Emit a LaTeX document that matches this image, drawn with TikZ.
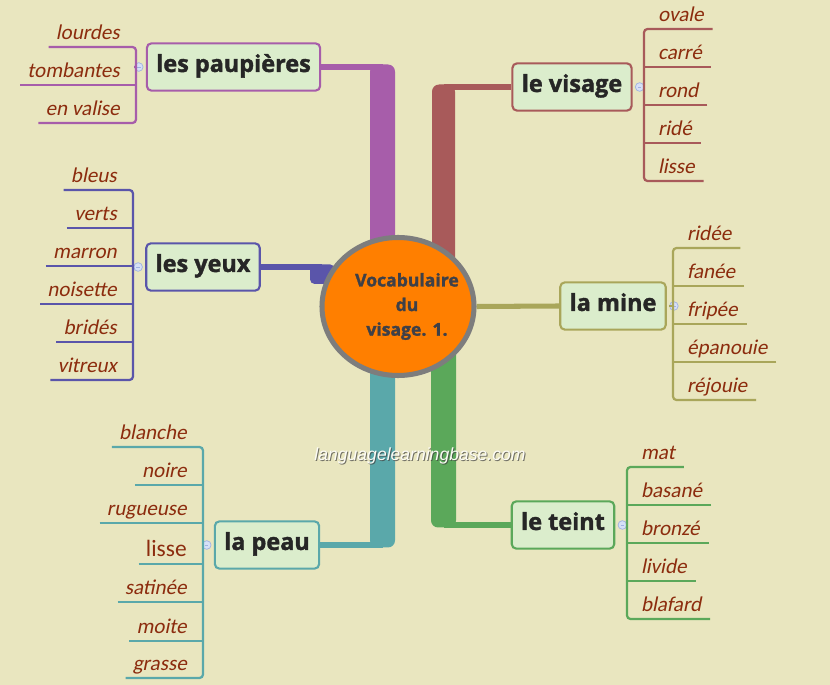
\documentclass[tikz,border=0pt]{standalone}
\usepackage{fontspec}
\setmainfont{Carlito}[AutoFakeSlant=0.2]
\newfontfamily\topicfont{Open Sans}[BoldFeatures={FakeBold=1.6}]
\newfontfamily\markfont{Liberation Sans}
\usetikzlibrary{shapes.geometric,positioning,backgrounds}

\definecolor{paper}{RGB}{233,230,191}
\definecolor{boxfill}{RGB}{219,237,204}
\definecolor{hubfill}{RGB}{255,127,0}
\definecolor{hubline}{RGB}{125,125,125}
\definecolor{hubtext}{RGB}{62,64,72}
\definecolor{leaftext}{RGB}{140,44,14}
\definecolor{cpau}{RGB}{167,93,170}
\definecolor{cvis}{RGB}{168,90,90}
\definecolor{cyeu}{RGB}{90,85,170}
\definecolor{cmin}{RGB}{169,166,90}
\definecolor{cpea}{RGB}{90,168,170}
\definecolor{ctei}{RGB}{91,168,90}
\definecolor{knobfill}{RGB}{214,224,246}
\definecolor{knobline}{RGB}{160,178,226}

\tikzset{
  topic/.style={draw=#1, line width=1.8pt, fill=boxfill, rounded corners=4pt,
    inner xsep=8pt, minimum height=1.42cm, text height=1.0em, text depth=0.15em,
    font=\topicfont\bfseries\fontsize{20}{22}\selectfont, text=black!85},
  leafL/.style={anchor=south east, inner xsep=6pt, inner ysep=4pt,
    text height=0.7em, text depth=0.2em, text=leaftext,
    font=\fontsize{18}{21}\selectfont\itshape},
  leafR/.style={leafL, anchor=south west, inner xsep=7.5pt},
  twig/.style={draw=#1, line width=1.9pt, rounded corners=3pt},
  trunk/.style={draw=#1, line width=4.3pt},
  knob/.style={circle, draw=knobline, fill=knobfill, line width=0.6pt,
    minimum size=0.26cm, inner sep=0pt,
    path picture={\draw[knobline, line width=0.6pt]
      ([xshift=-1.5pt]path picture bounding box.center) --
      ([xshift=1.5pt]path picture bounding box.center);}},
}

\begin{document}
\begin{tikzpicture}[x=0.03cm, y=-0.03cm]
    \useasboundingbox (0,0) rectangle (830,685);

    % Central topic
    \node[ellipse, draw=hubline, fill=hubfill, line width=4.3pt,
      minimum width=4.56cm, minimum height=4.14cm, inner sep=0pt,
      label={[xshift=0.27cm, align=center, text=hubtext,
        font=\topicfont\bfseries\fontsize{15}{21}\selectfont]center:Vocabulaire\\du\\visage. 1.}]
      (hub) at (398,306.5) {};

    % les paupieres
    \node[topic=cpau] (pau) at (233.5,67) {les paupières};
    \node[knob, left=2pt of pau] (kpau) {};
    \coordinate (spau) at (136,67);
    \coordinate (jpau) at (382.5,67);
    \node[leafL] (pau1) at (127,47) {lourdes};
    \node[leafL] (pau2) at (127,85) {tombantes};
    \node[leafL] (pau3) at (127,123) {en valise};
    \draw[twig=cpau] (pau1.south west) -- (pau1.south west -| spau) -- (pau3.south west -| spau) -- (pau3.south west);
    \draw[twig=cpau] (pau2.south west) -- (pau2.south west -| spau);
    \draw[twig=cpau] (kpau) -- (spau);

    % le visage
    \node[topic=cvis] (vis) at (572,87) {le visage};
    \node[knob, right=2pt of vis] (kvis) {};
    \coordinate (svis) at (644,87);
    \coordinate (jvis) at (443.5,87);
    \node[leafR] (vis1) at (649,29) {ovale};
    \node[leafR] (vis2) at (649,67) {carré};
    \node[leafR] (vis3) at (649,105) {rond};
    \node[leafR] (vis4) at (649,143) {ridé};
    \node[leafR] (vis5) at (649,181) {lisse};
    \draw[twig=cvis] (vis1.south east) -- (vis1.south east -| svis) -- (vis5.south east -| svis) -- (vis5.south east);
    \draw[twig=cvis] (vis2.south east) -- (vis2.south east -| svis);
    \draw[twig=cvis] (vis3.south east) -- (vis3.south east -| svis);
    \draw[twig=cvis] (vis4.south east) -- (vis4.south east -| svis);
    \draw[twig=cvis] (kvis) -- (svis);

    % les yeux
    \node[topic=cyeu] (yeu) at (203,267) {les yeux};
    \node[knob, left=2pt of yeu] (kyeu) {};
    \coordinate (syeu) at (133,267);
    \coordinate (jyeu) at (322,267);
    \node[leafL] (yeu1) at (124,190) {bleus};
    \node[leafL] (yeu2) at (124,228) {verts};
    \node[leafL] (yeu3) at (124,266) {marron};
    \node[leafL] (yeu4) at (124,304) {noisette};
    \node[leafL] (yeu5) at (124,342) {bridés};
    \node[leafL] (yeu6) at (124,380) {vitreux};
    \draw[twig=cyeu] (yeu1.south west) -- (yeu1.south west -| syeu) -- (yeu6.south west -| syeu) -- (yeu6.south west);
    \draw[twig=cyeu] (yeu2.south west) -- (yeu2.south west -| syeu);
    \draw[twig=cyeu] (yeu3.south west) -- (yeu3.south west -| syeu);
    \draw[twig=cyeu] (yeu4.south west) -- (yeu4.south west -| syeu);
    \draw[twig=cyeu] (yeu5.south west) -- (yeu5.south west -| syeu);
    \draw[twig=cyeu] (kyeu) -- (syeu);

    % la mine
    \node[topic=cmin] (min) at (613,306) {la mine};
    \node[knob, right=2pt of min] (kmin) {};
    \coordinate (smin) at (673,306);
    \node[leafR] (min1) at (678,248) {ridée};
    \node[leafR] (min2) at (678,286) {fanée};
    \node[leafR] (min3) at (678,324) {fripée};
    \node[leafR] (min4) at (678,362) {épanouie};
    \node[leafR] (min5) at (678,400) {réjouie};
    \draw[twig=cmin] (min1.south east) -- (min1.south east -| smin) -- (min5.south east -| smin) -- (min5.south east);
    \draw[twig=cmin] (min2.south east) -- (min2.south east -| smin);
    \draw[twig=cmin] (min3.south east) -- (min3.south east -| smin);
    \draw[twig=cmin] (min4.south east) -- (min4.south east -| smin);
    \draw[twig=cmin] (kmin) -- (smin);

    % la peau
    \node[topic=cpea] (pea) at (267,545) {la peau};
    \node[knob, left=2pt of pea] (kpea) {};
    \coordinate (spea) at (203,545);
    \coordinate (jpea) at (382.5,545);
    \node[leafL] (pea1) at (194,447) {blanche};
    \node[leafL] (pea2) at (194,485) {noire};
    \node[leafL] (pea3) at (194,523) {rugueuse};
    \node[leafL, font=\fontsize{20}{22}\selectfont] (pea4) at (194,564) {lisse};
    \node[leafL] (pea5) at (194,602) {satinée};
    \node[leafL] (pea6) at (194,641) {moite};
    \node[leafL] (pea7) at (194,678) {grasse};
    \draw[twig=cpea] (pea1.south west) -- (pea1.south west -| spea) -- (pea7.south west -| spea) -- (pea7.south west);
    \draw[twig=cpea] (pea2.south west) -- (pea2.south west -| spea);
    \draw[twig=cpea] (pea3.south west) -- (pea3.south west -| spea);
    \draw[twig=cpea] (pea4.south west) -- (pea4.south west -| spea);
    \draw[twig=cpea] (pea5.south west) -- (pea5.south west -| spea);
    \draw[twig=cpea] (pea6.south west) -- (pea6.south west -| spea);
    \draw[twig=cpea] (kpea) -- (spea);

    % le teint
    \node[topic=ctei] (tei) at (563,525) {le teint};
    \node[knob, right=2pt of tei] (ktei) {};
    \coordinate (stei) at (627,525);
    \coordinate (jtei) at (443.5,525);
    \node[leafR] (tei1) at (632,467) {mat};
    \node[leafR] (tei2) at (632,505) {basané};
    \node[leafR] (tei3) at (632,543) {bronzé};
    \node[leafR] (tei4) at (632,581) {livide};
    \node[leafR] (tei5) at (632,619) {blafard};
    \draw[twig=ctei] (tei1.south east) -- (tei1.south east -| stei) -- (tei5.south east -| stei) -- (tei5.south east);
    \draw[twig=ctei] (tei2.south east) -- (tei2.south east -| stei);
    \draw[twig=ctei] (tei3.south east) -- (tei3.south east -| stei);
    \draw[twig=ctei] (tei4.south east) -- (tei4.south east -| stei);
    \draw[twig=ctei] (ktei) -- (stei);

    % Watermark
    \node[font=\markfont\itshape\fontsize{15}{17}\selectfont, text=black!75, opacity=0.7]
      (wmshadow) at (421,457) {languagelearningbase.com};
    \node[font=\markfont\itshape\fontsize{15}{17}\selectfont, text=white!85!paper]
      (wm) at (420,456) {languagelearningbase.com};

    % Paper and trunks behind everything
    \begin{scope}[on background layer]
      \fill[paper] (0,0) rectangle (830,685);
      \fill[cpau, rounded corners=6pt] (370,64.5) rectangle (395,250);
      \draw[trunk=cpau] (pau.east) -- (jpau);
      \fill[cvis, rounded corners=6pt] (432,84.5) rectangle (455,275);
      \draw[trunk=cvis] (vis.west) -- (jvis);
      \fill[cyeu, rounded corners=4pt] (310,264.5) rectangle (335,284);
      \draw[trunk=cyeu] (yeu.east) -- (jyeu);
      \draw[trunk=cmin] (hub.east) -- (min.west);
      \fill[cpea, rounded corners=6pt] (370,340) rectangle (395,547.5);
      \draw[trunk=cpea] (pea.east) -- (jpea);
      \fill[ctei, rounded corners=6pt] (431,340) rectangle (456,527.5);
      \draw[trunk=ctei] (tei.west) -- (jtei);
    \end{scope}
\end{tikzpicture}
\end{document}
